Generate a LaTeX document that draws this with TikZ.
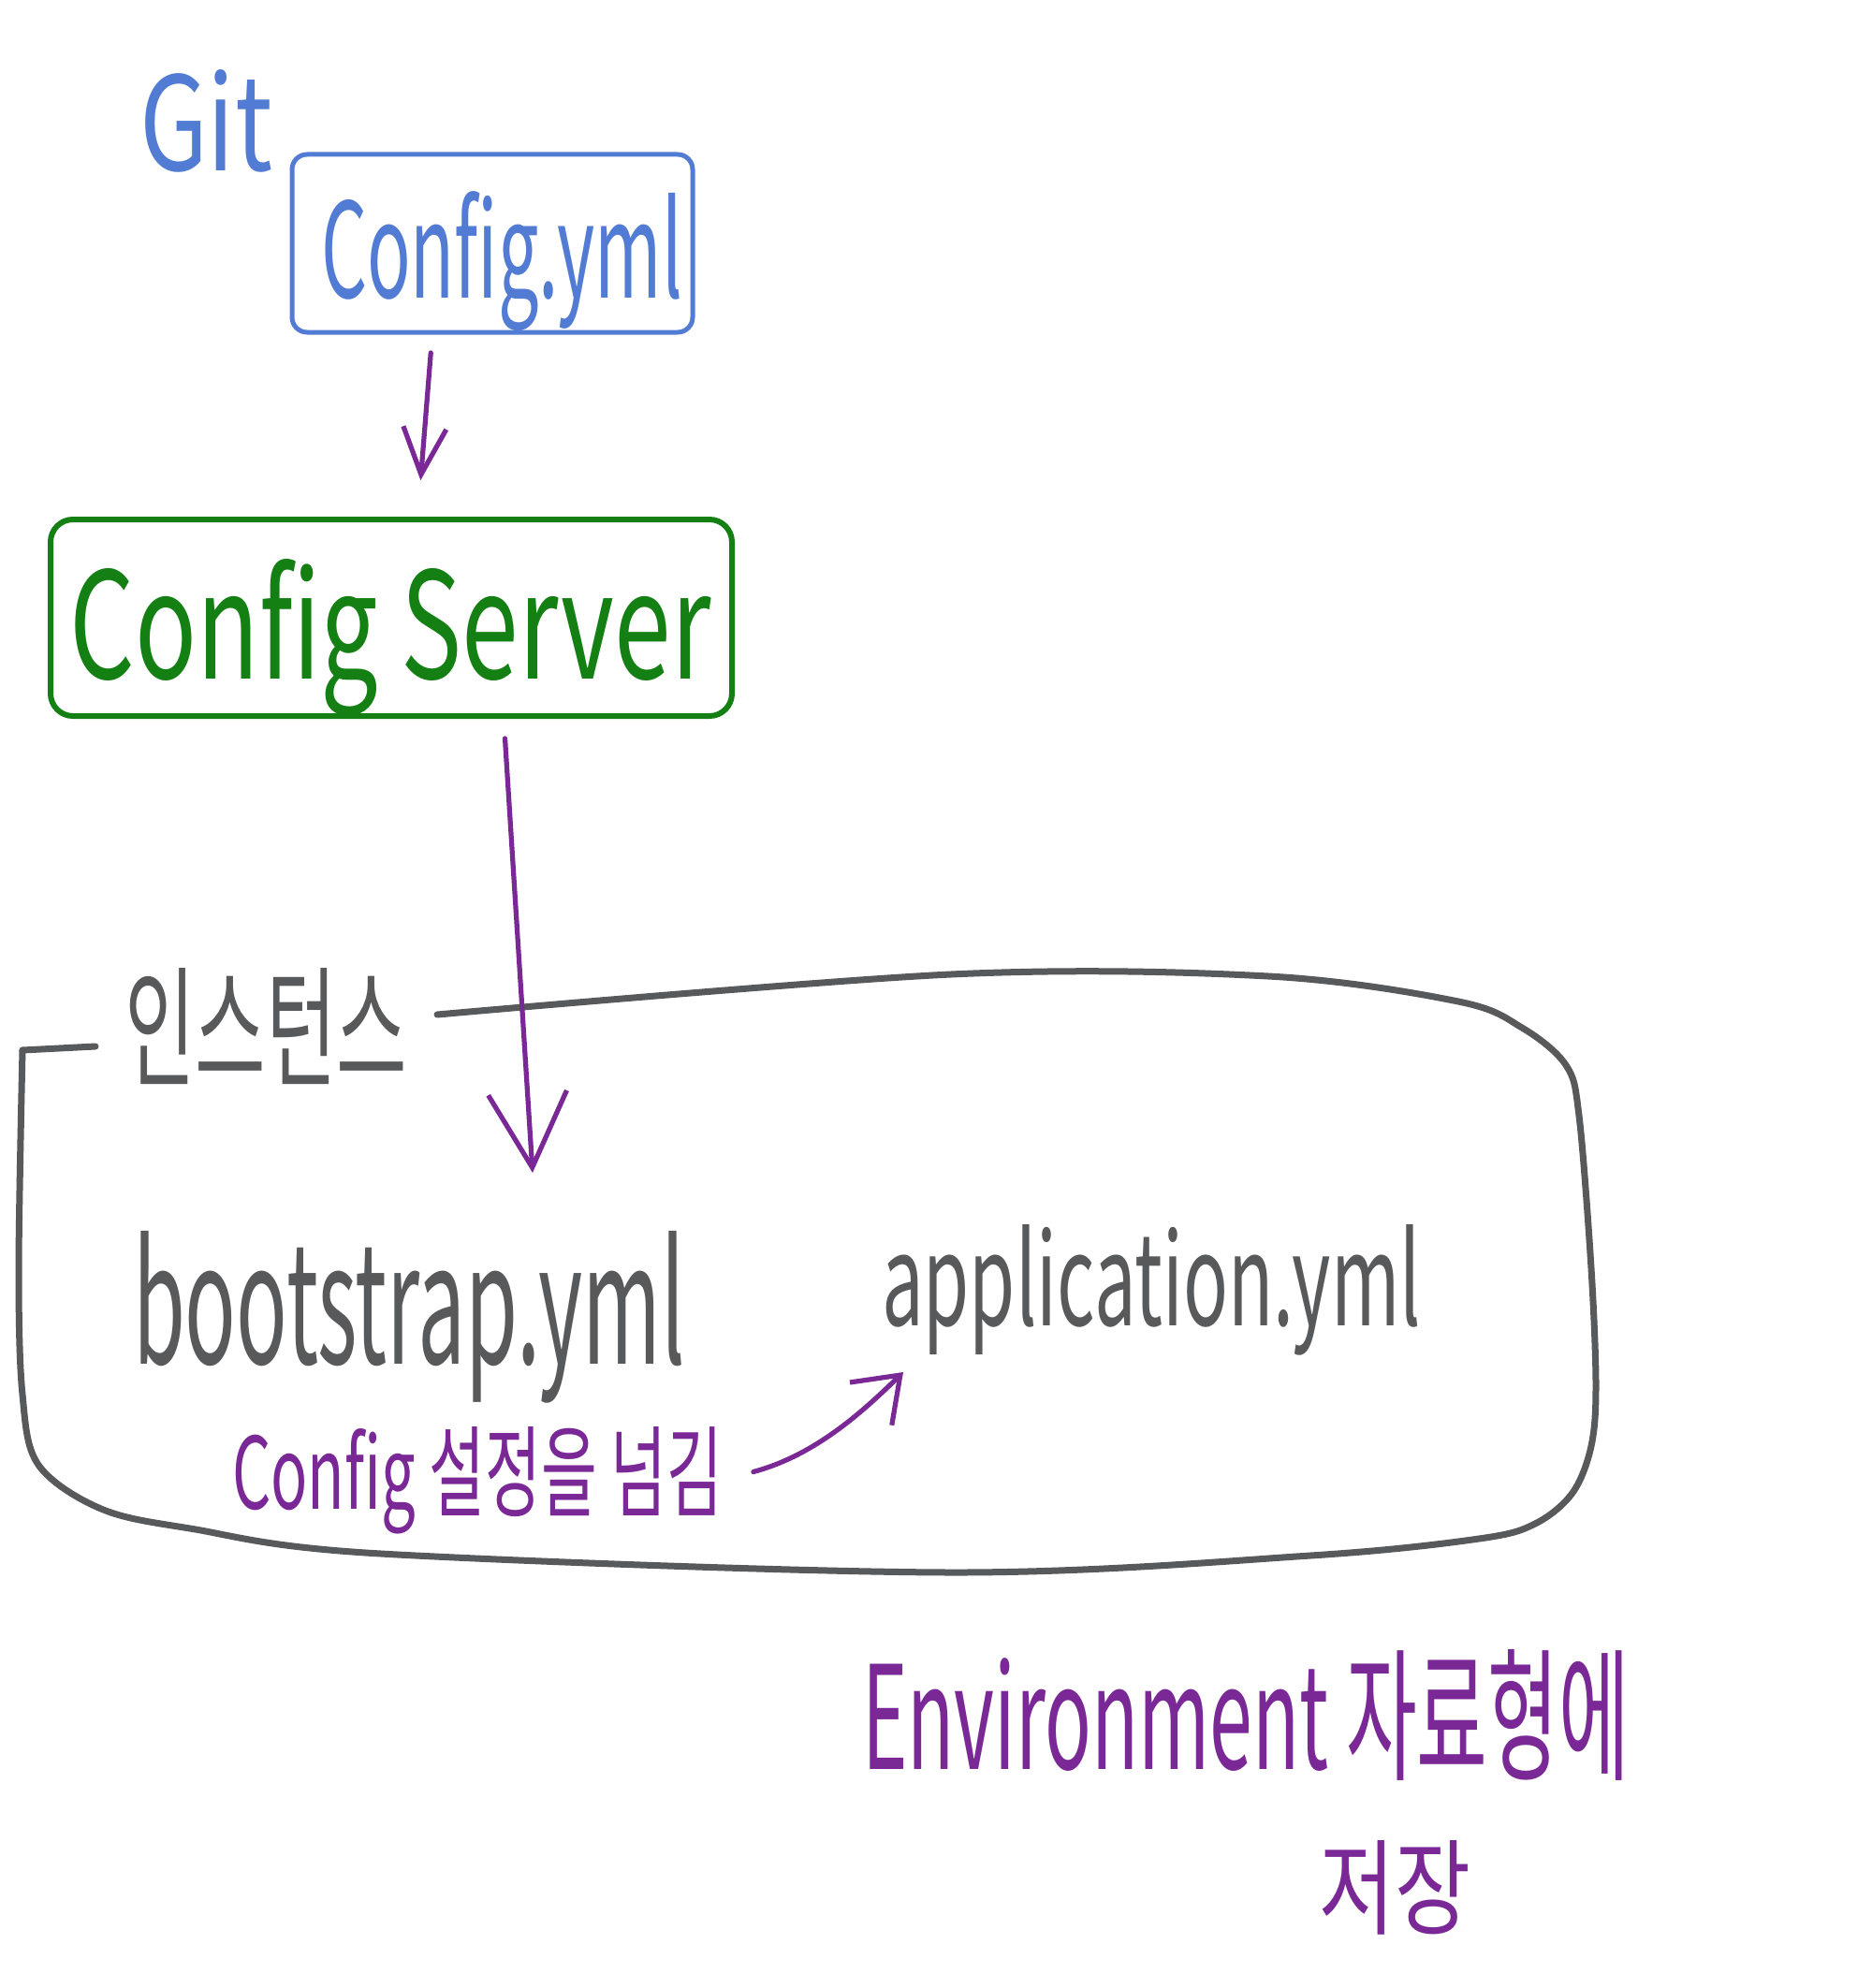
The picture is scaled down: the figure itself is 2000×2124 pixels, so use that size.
\documentclass[tikz,border=0pt]{standalone}
\usepackage{fontspec}
\setmainfont{Noto Sans CJK KR}
\usetikzlibrary{arrows.meta}
\definecolor{gitblue}{RGB}{82,124,212}
\definecolor{srvgreen}{RGB}{20,128,20}
\definecolor{hwpurple}{RGB}{122,40,150}
\definecolor{hwgray}{RGB}{88,89,91}
\newcommand\fitto[3]{\resizebox{#1}{#2}{#3}}
\begin{document}
\begin{tikzpicture}[x=0.5pt,y=-0.5pt,
  txt/.style={inner sep=0pt, outer sep=0pt, anchor=base west},
  boxshape/.style={draw, inner sep=0pt, outer sep=0pt},
  purplearrow/.style={draw=hwpurple, line width=2.6pt, line cap=round, line join=round},
  grayline/.style={draw=hwgray, line width=3.5pt, line cap=round, line join=round}]
\useasboundingbox (0,0) rectangle (2000,2124);

% Git + Config.yml
\node[txt, text=gitblue] (git) at (149,183) {\fitto{71pt}{54pt}{Git}};
\node[boxshape, draw=gitblue, line width=2.5pt, rounded corners=8pt,
      minimum width=214pt, minimum height=95pt] (cfgbox) at (526,260) {};
\node[txt, text=gitblue] (cfgtxt) at (343,318) {\fitto{193pt}{57pt}{Config.yml}};

% Config Server
\node[boxshape, draw=srvgreen, line width=3pt, rounded corners=12pt,
      minimum width=364pt, minimum height=105pt] (srvbox) at (418,660) {};
\node[txt, text=srvgreen] (srvtxt) at (75,725) {\fitto{342pt}{64pt}{Config Server}};

% instance box
\node[txt, text=hwgray] (inst) at (133,1150) {\fitto{151pt}{58pt}{인스턴스}};
\coordinate (instL) at (102,1118);
\coordinate (instR) at (467,1084);
\draw[grayline] (instL) -- (24,1122);
\draw[grayline] plot[smooth, tension=0.55] coordinates {(24,1122) (20,1355) (24,1490) (41,1565) (108,1612) (203,1633) (407,1660) (1016,1680) (1400,1662) (1580,1644) (1640,1628) (1680,1595) (1700,1545) (1705,1480) (1700,1355) (1687,1192) (1673,1138) (1626,1098) (1558,1070) (1355,1043) (1016,1041) (instR)};

\node[txt, text=hwgray] (boot) at (142,1457) {\fitto{295pt}{71pt}{bootstrap.yml}};
\node[txt, text=hwgray] (app) at (942,1416) {\fitto{288pt}{54pt}{application.yml}};
\node[txt, text=hwpurple] (pass) at (248,1612) {\fitto{262pt}{44pt}{Config 설정을 넘김}};

\node[txt, text=hwpurple] (env1) at (921,1890) {\fitto{410pt}{64pt}{Environment 자료형에}};
\node[txt, text=hwpurple] (env2) at (1409,2058) {\fitto{81pt}{46pt}{저장}};

% arrows
\draw[purplearrow, shorten <=11pt, shorten >=21pt, -{Straight Barb[length=25pt,width=23pt]}]
  ([xshift=-32pt]cfgbox.south) -- ([xshift=14pt]srvbox.north);
\coordinate (a2end) at (569,1253);
\draw[purplearrow, shorten <=12pt, -{Straight Barb[length=40pt,width=42pt]}]
  ([xshift=60pt]srvbox.south) -- (a2end);
\coordinate (a3end) at (965,1466);
\draw[purplearrow, shorten <=17pt, -{Straight Barb[length=22pt,width=32pt]}]
  (pass.east) .. controls (870,1555) and (920,1510) .. (a3end);
\end{tikzpicture}
\end{document}
